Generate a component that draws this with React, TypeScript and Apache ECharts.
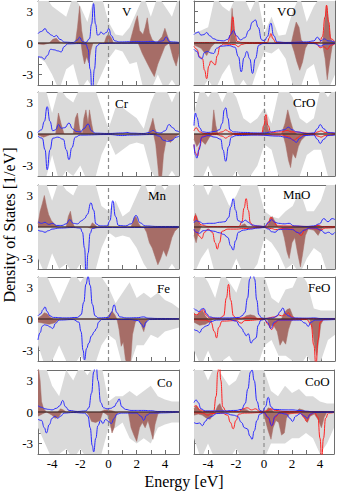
import React, { useEffect, useRef } from "react";
import * as echarts from "echarts";

type Pt = [number, number];

// ---------- axes / labels ----------
const PANEL_NAMES = ["V", "VO", "Cr", "CrO", "Mn", "MnO", "Fe", "FeO", "Co", "CoO"];
const X_TICK_LABELS = [-4, -2, 0, 2, 4];
const Y_TICK_LABELS = [-3, 0, 3];
const Y_TITLE = "Density of States [1/eV]";
const X_TITLE = "Energy [eV]";

// energy grid on which the total DOS (grey) is sampled
const ENERGY_GRID = [-5, -4.5, -4, -3.5, -3, -2.5, -2, -1.5, -1, -0.5, 0, 0.5, 1, 1.5, 2, 2.5, 3, 3.5, 4, 4.5, 5];

// ---------- V ----------
const V_GRAY_UP = [4.5, 4.5, 3.5, 3, 2.5, 4.5, 3.5, 2, 4.5, 4.5, 2, 0.8, 0.7, 1.5, 3, 4.5, 2.5, 4.5, 3.5, 2.5, 4.5];
const V_GRAY_DOWN = [-1.3, -1.8, -3, -4.5, -2.5, -2, -4.5, -3.5, -4.5, -3, -1.5, -0.6, -0.8, -2, -1.8, -4.5, -4.5, -3, -4.5, -3.5, -4.5];
const V_BROWN_UP: Pt[] = [[-5, 0], [-4.2, 0], [-3.95, 0.35], [-3.7, 0.45], [-3.45, 0.1], [-3.2, 0], [-2.35, 0], [-2.2, 1.5], [-2.05, 3.5], [-1.9, 1.2], [-1.75, 0], [-0.3, 0], [-0.15, 0.6], [0, 0.85], [0.2, 0.5], [0.35, 0], [1.5, 0], [1.7, 1.0], [1.9, 2.0], [2.05, 2.6], [2.2, 1.2], [2.45, 0.8], [2.6, 1.5], [2.75, 2.4], [2.9, 1.0], [3.1, 0.3], [3.4, 0], [3.8, 0.6], [4.0, 1.4], [4.2, 0.6], [4.4, 0], [5, 0]];
const V_BROWN_DOWN: Pt[] = [[-5, -0.1], [-4.6, -0.15], [-4.2, 0], [-1.95, 0], [-1.85, -1.0], [-1.7, -2.0], [-1.55, -1.3], [-1.4, -1.9], [-1.25, -0.7], [-1.1, 0], [2.1, 0], [2.4, -1.0], [2.7, -1.8], [3.0, -2.6], [3.25, -3.2], [3.5, -2.0], [3.8, -1.0], [4.0, -0.3], [4.3, 0], [4.6, -1.5], [4.8, -2.2], [5, -1.0]];
const V_BLUE_UP: Pt[] = [[-5, 0.9], [-4.75, 1.1], [-4.5, 1.37], [-4.3, 1.0], [-4.05, 0.75], [-3.85, 0.6], [-3.7, 0.72], [-3.45, 0.35], [-3.1, 0.08], [-2.5, 0.05], [-2.2, 0.3], [-2.05, 0.55], [-1.85, 0.15], [-1.6, 0.05], [-1.35, 0.4], [-1.2, 1.8], [-1.06, 3.75], [-0.92, 1.8], [-0.78, 0.75], [-0.65, 0.8], [-0.55, 1.05], [-0.35, 0.85], [-0.15, 1.0], [0.02, 1.37], [0.2, 0.7], [0.45, 0.2], [0.8, 0.1], [1.5, 0.12], [2.0, 0.15], [2.5, 0.12], [3.0, 0.15], [3.5, 0.1], [3.85, 0.2], [4.1, 0.57], [4.3, 0.15], [4.6, 0.1], [5, 0.05]];
const V_BLUE_DOWN: Pt[] = [[-5, -1.3], [-4.75, -1.35], [-4.55, -1.55], [-4.35, -1.2], [-4.1, -0.6], [-3.85, -0.65], [-3.6, -0.75], [-3.35, -0.85], [-3.15, -0.35], [-2.9, -0.08], [-2.0, -0.05], [-1.6, -0.1], [-1.45, -0.6], [-1.3, -2.5], [-1.15, -5], [-1.0, -2.5], [-0.85, -0.3], [-0.6, -0.05], [0.5, -0.02], [5, -0.02]];

// ---------- VO ----------
const VO_GRAY_UP = [1, 1.2, 1.5, 4.5, 3.5, 3, 4.5, 4.5, 3, 4.5, 1, 2.5, 0.7, 0.8, 3, 4.5, 2, 3.5, 4.5, 4.5, 4.5];
const VO_GRAY_DOWN = [-4.5, -4.5, -3.5, -4.5, -3, -2, -4.5, -3.5, -4.5, -2.5, -0.8, -1, -0.5, -1.5, -4, -4.5, -2.5, -2, -4.5, -4.5, -3];
const VO_BROWN_UP: Pt[] = [[-5, 0], [-2.45, 0], [-2.3, 3.3], [-2.15, 1.0], [-2.0, 0], [1.9, 0], [2.1, 1.2], [2.25, 2.0], [2.45, 1.5], [2.6, 0.3], [2.8, 0], [4.1, 0], [4.25, 1.5], [4.4, 3.6], [4.55, 2.0], [4.7, 0.3], [5, 0]];
const VO_BROWN_DOWN: Pt[] = [[-5, -0.2], [-4.5, -0.5], [-4.1, -1.2], [-3.8, -0.4], [-3.5, 0], [1.9, 0], [2.1, -0.8], [2.3, -1.8], [2.5, -2.6], [2.7, -1.8], [2.9, -0.5], [3.1, 0], [4.1, 0], [4.3, -1.5], [4.45, -3.5], [4.6, -2.0], [4.8, -0.3], [5, 0]];
const VO_BLUE_UP: Pt[] = [[-5, 0.8], [-4.85, 0.95], [-4.7, 1.05], [-4.5, 0.75], [-4.3, 0.8], [-4.1, 1.0], [-3.9, 0.7], [-3.6, 0.4], [-3.3, 0.25], [-2.9, 0.2], [-2.6, 0.35], [-2.4, 0.8], [-2.2, 1.2], [-2.0, 0.7], [-1.7, 0.3], [-1.4, 0.5], [-1.1, 1.2], [-0.85, 2.0], [-0.65, 2.2], [-0.45, 1.5], [-0.2, 0.3], [0, 0.2], [0.2, 0.6], [0.45, 1.9], [0.65, 0.7], [0.9, 0.1], [1.5, 0.05], [3.0, 0.1], [3.5, 0.2], [3.75, 0.55], [4.0, 0.2], [4.25, 0.4], [4.5, 0.2], [5, 0.1]];
const VO_BLUE_DOWN: Pt[] = [[-5, -0.6], [-4.8, -0.8], [-4.6, -1.4], [-4.45, -1.5], [-4.25, -0.9], [-4.05, -0.8], [-3.8, -0.95], [-3.6, -1.0], [-3.4, -0.5], [-3.1, -0.3], [-2.5, -0.25], [-2.1, -0.4], [-1.85, -1.3], [-1.65, -2.75], [-1.45, -1.4], [-1.25, -0.8], [-1.05, -1.5], [-0.85, -2.9], [-0.65, -1.5], [-0.4, -0.2], [-0.1, -0.05], [3.5, -0.05], [4.0, -0.3], [4.3, -0.1], [5, -0.05]];
const VO_RED_UP: Pt[] = [[-5, 0.05], [-2.6, 0.05], [-2.4, 0.8], [-2.25, 2.5], [-2.1, 0.9], [-1.95, 0.15], [-1.6, 0.05], [0.2, 0.05], [0.35, 0.5], [0.45, 0.9], [0.6, 0.4], [0.8, 0.05], [3.9, 0.05], [4.1, 0.6], [4.3, 2.5], [4.4, 3.6], [4.55, 2.0], [4.7, 0.4], [5, 0.1]];
const VO_RED_DOWN: Pt[] = [[-5, -0.3], [-4.8, -0.6], [-4.6, -1.3], [-4.4, -1.5], [-4.25, -2.6], [-4.1, -3.4], [-3.95, -2.2], [-3.8, -1.7], [-3.65, -1.9], [-3.5, -2.1], [-3.35, -1.2], [-3.15, -0.3], [-2.9, -0.1], [-2.1, -0.15], [-1.85, -0.35], [-1.65, -0.15], [-1.3, -0.05], [3.7, -0.05], [3.95, -0.45], [4.2, -0.35], [4.45, -0.6], [4.7, -0.2], [5, -0.05]];

// ---------- Cr ----------
const CR_GRAY_UP = [4.5, 4.5, 2, 4.5, 3.5, 3, 4.5, 4.5, 4.5, 2.5, 0.5, 2.5, 2.5, 2, 1.5, 0.5, 3, 4.5, 4.5, 3, 4.5];
const CR_GRAY_DOWN = [-4.5, -4.5, -2, -4.5, -3.5, -4, -3, -4.5, -4.5, -2, -0.5, -2, -1.5, -1, -0.8, -1, -3.5, -4.5, -4.5, -3.5, -4.5];
const CR_BROWN_UP: Pt[] = [[-5, 0], [-3.75, 0], [-3.55, 2.0], [-3.35, 0.9], [-3.15, 0], [-2.5, 0], [-2.35, 1.5], [-2.2, 2.0], [-2.05, 0.5], [-1.85, 0], [-1.75, 1.5], [-1.6, 2.3], [-1.45, 1.0], [-1.35, 2.3], [-1.2, 1.0], [-1.05, 0], [2.8, 0], [3.0, 0.8], [3.15, 1.5], [3.3, 0.5], [3.45, 0], [5, 0]];
const CR_BROWN_DOWN: Pt[] = [[-5, -0.1], [-4.6, -0.3], [-4.2, -0.1], [-3.8, 0], [3.2, 0], [3.35, -1.0], [3.5, -3.0], [3.6, -4.5], [3.75, -4.5], [3.9, -2.0], [4.1, -0.5], [4.4, -0.8], [4.7, -0.3], [5, 0]];
const CR_BLUE_UP: Pt[] = [[-5, 0.15], [-4.75, 0.4], [-4.55, 1.2], [-4.35, 2.6], [-4.15, 1.2], [-3.95, 0.3], [-3.75, 0.4], [-3.55, 0.9], [-3.35, 0.55], [-3.1, 0.6], [-2.8, 1.05], [-2.55, 0.5], [-2.3, 0.25], [-2.0, 0.2], [-1.75, 0.5], [-1.45, 0.95], [-1.2, 0.3], [-0.95, 0.08], [0, 0.05], [1.0, 0.1], [1.3, 0.15], [1.6, 0.08], [2.5, 0.05], [2.9, 0.15], [3.15, 0.35], [3.4, 0.15], [3.7, 0.1], [4.0, 0.3], [4.3, 0.9], [4.55, 0.6], [4.8, 0.3], [5, 0.2]];
const CR_BLUE_DOWN: Pt[] = [[-5, -0.2], [-4.7, -0.4], [-4.5, -1.5], [-4.35, -3.4], [-4.15, -1.5], [-3.95, -0.4], [-3.6, -0.3], [-3.2, -0.5], [-3.0, -1.5], [-2.8, -2.45], [-2.6, -1.3], [-2.35, -0.3], [-2.0, -0.1], [0, -0.05], [1.0, -0.15], [1.5, -0.1], [3.2, -0.05], [3.6, -0.2], [3.9, -0.6], [4.2, -0.7], [4.5, -0.6], [4.8, -0.3], [5, -0.2]];

// ---------- CrO ----------
const CRO_GRAY_UP = [2, 4.5, 3.5, 4.5, 3, 4.5, 3.5, 1.5, 1, 1.5, 2.5, 1, 4, 4.5, 3.5, 1.5, 1, 1.5, 4.5, 3.5, 4.5];
const CRO_GRAY_DOWN = [-4.5, -4.5, -3, -4.5, -4, -4.5, -3.5, -4.5, -4, -3, -1, -1.5, -4, -4.5, -4.5, -4, -2, -1.5, -1.5, -4, -4.5];
const CRO_BROWN_UP: Pt[] = [[-5, 0], [-3.75, 0], [-3.6, 2.3], [-3.45, 0.8], [-3.3, 0], [-0.15, 0], [0.0, 1.0], [0.1, 1.5], [0.25, 0.5], [0.4, 0], [1.2, 0], [1.45, 1.0], [1.65, 2.3], [1.85, 1.2], [2.05, 0.3], [2.3, 0], [5, 0]];
const CRO_BROWN_DOWN: Pt[] = [[-5, -0.5], [-4.8, -1.2], [-4.5, -0.6], [-4.2, -1.0], [-3.9, -0.3], [-3.7, 0], [1.3, 0], [1.5, -1.0], [1.7, -2.5], [1.85, -3.2], [2.0, -1.8], [2.2, -2.3], [2.4, -1.2], [2.6, -0.6], [2.9, -0.2], [3.1, 0], [5, 0]];
const CRO_BLUE_UP: Pt[] = [[-5, 0.8], [-4.9, 2.0], [-4.8, 1.6], [-4.6, 0.6], [-4.4, 0.2], [-4.0, 0.15], [-3.5, 0.25], [-3.2, 0.4], [-3.0, 1.0], [-2.85, 2.3], [-2.75, 2.5], [-2.6, 1.5], [-2.45, 0.4], [-2.2, 0.2], [-1.5, 0.15], [-0.5, 0.1], [0, 0.1], [0.5, 0.2], [1.0, 0.3], [1.4, 0.4], [1.7, 0.65], [1.95, 0.4], [2.3, 0.2], [3.0, 0.05], [3.5, 0.1], [3.75, 0.5], [3.95, 0.9], [4.2, 0.5], [4.5, 0.15], [5, 0.1]];
const CRO_BLUE_DOWN: Pt[] = [[-5, -1.0], [-4.9, -2.0], [-4.8, -2.3], [-4.65, -1.5], [-4.45, -0.3], [-4.0, -0.15], [-3.5, -0.3], [-3.1, -0.5], [-2.95, -1.5], [-2.75, -2.6], [-2.55, -1.2], [-2.35, -0.3], [-2.0, -0.15], [-0.5, -0.1], [1.0, -0.2], [1.5, -0.3], [1.8, -0.4], [2.05, -0.6], [2.25, -0.8], [2.5, -0.4], [2.8, -0.15], [3.5, -0.1], [3.75, -0.5], [3.95, -0.9], [4.2, -0.5], [4.5, -0.15], [5, -0.1]];
const CRO_RED_UP: Pt[] = [[-5, 0.3], [-4.85, 0.6], [-4.6, 0.2], [-4.3, 0.05], [-3.4, 0.05], [-3.0, 0.2], [-2.75, 0.4], [-2.5, 0.2], [-2.2, 0.05], [-0.2, 0.05], [-0.05, 0.8], [0.1, 1.85], [0.25, 0.8], [0.45, 0.15], [1.2, 0.2], [1.6, 0.35], [1.9, 0.2], [3.5, 0.05], [3.8, 0.2], [4.0, 0.3], [4.3, 0.15], [5, 0.05]];
const CRO_RED_DOWN: Pt[] = [[-5, -1.0], [-4.9, -1.8], [-4.75, -2.1], [-4.6, -1.2], [-4.4, -0.2], [-3.4, -0.05], [-3.0, -0.2], [-2.75, -0.4], [-2.5, -0.2], [-2.2, -0.05], [1.2, -0.1], [1.7, -0.25], [2.1, -0.6], [2.3, -0.4], [2.6, -0.1], [3.5, -0.05], [3.8, -0.2], [4.0, -0.3], [4.3, -0.15], [5, -0.05]];

// ---------- Mn ----------
const MN_GRAY_UP = [4.5, 4.5, 2.5, 4.5, 3.5, 3, 4.5, 4.5, 4.5, 2, 1.5, 2.5, 1, 1.5, 3, 4.5, 2.5, 4.5, 3.5, 4.5, 4.5];
const MN_GRAY_DOWN = [-3, -4.5, -2.5, -4, -3.5, -4.5, -3.5, -4.5, -4.5, -2, -0.5, -1, -0.8, -1, -2, -3.5, -4.5, -4, -4.5, -3.5, -4.5];
const MN_BROWN_UP: Pt[] = [[-5, 0.3], [-4.85, 1.5], [-4.7, 2.2], [-4.55, 3.0], [-4.4, 2.0], [-4.25, 1.2], [-4.05, 0.6], [-3.85, 0.3], [-3.6, 0], [-3.0, 0], [-2.85, 1.0], [-2.7, 1.5], [-2.55, 0.4], [-2.4, 0], [-1.3, 0], [-1.15, 0.4], [-0.95, 0.2], [-0.8, 0], [1.6, 0], [1.8, 0.8], [1.95, 1.0], [2.15, 0.3], [2.3, 0], [5, 0]];
const MN_BROWN_DOWN: Pt[] = [[-5, 0], [-1.5, 0], [-1.2, -0.15], [-0.6, -0.05], [-0.3, 0], [2.5, 0], [2.7, -0.5], [2.9, -1.5], [3.1, -2.0], [3.3, -2.8], [3.5, -3.6], [3.7, -3.0], [3.9, -2.2], [4.1, -2.8], [4.3, -2.0], [4.5, -1.0], [4.7, -0.4], [5, 0]];
const MN_BLUE_UP: Pt[] = [[-5, 0.5], [-4.75, 0.35], [-4.5, 0.45], [-4.25, 0.25], [-3.95, 0.35], [-3.7, 0.15], [-3.3, 0.15], [-3.0, 0.3], [-2.75, 0.7], [-2.5, 0.35], [-2.2, 0.3], [-1.9, 0.6], [-1.7, 0.8], [-1.5, 1.2], [-1.25, 2.3], [-1.05, 1.6], [-0.9, 0.3], [-0.6, 0.1], [-0.1, 0.1], [0.1, 0.6], [0.3, 2.5], [0.5, 1.0], [0.7, 0.15], [1.2, 0.1], [1.6, 0.3], [1.95, 1.1], [2.25, 0.4], [2.6, 0.1], [3.5, 0.05], [5, 0.05]];
const MN_BLUE_DOWN: Pt[] = [[-5, -0.3], [-4.75, -0.4], [-4.5, -0.5], [-4.25, -0.35], [-4.0, -0.2], [-3.5, -0.1], [-2.5, -0.05], [-2.0, -0.1], [-1.85, -0.5], [-1.7, -2.0], [-1.58, -5], [-1.45, -2.5], [-1.3, -0.6], [-1.15, -0.15], [-0.8, -0.05], [5, -0.05]];

// ---------- MnO ----------
const MNO_GRAY_UP = [4.5, 4.5, 3, 4.5, 3.5, 2, 3, 4.5, 4.5, 4, 1.5, 1, 0.8, 1.5, 2, 3.5, 1.5, 1.5, 2.5, 4.5, 4.5];
const MNO_GRAY_DOWN = [-4.5, -3, -2, -4.5, -4, -4.5, -3, -4.5, -4.5, -3.5, -1, -1.5, -2.5, -4, -3.5, -4.5, -3, -2, -2.5, -4.5, -4.5];
const MNO_BROWN_UP: Pt[] = [[-5, 0.5], [-4.9, 1.3], [-4.75, 0.8], [-4.6, 0.2], [-4.4, 0], [-1.8, 0], [-1.6, 0.2], [-1.4, 0.3], [-1.2, 0], [0.2, 0], [0.4, 0.8], [0.55, 1.0], [0.75, 0.5], [0.95, 0], [3.4, 0], [3.7, 0.2], [3.9, 0.1], [4.1, 0], [5, 0]];
const MNO_BROWN_DOWN: Pt[] = [[-5, -0.8], [-4.85, -1.5], [-4.7, -0.6], [-4.5, 0], [1.2, 0], [1.4, -1.0], [1.6, -2.4], [1.75, -3.0], [1.95, -1.5], [2.15, -1.0], [2.35, -2.5], [2.55, -3.8], [2.7, -2.6], [2.9, -0.8], [3.1, -0.2], [3.5, -0.3], [3.8, -0.8], [4.0, -0.3], [4.2, 0], [5, 0]];
const MNO_BLUE_UP: Pt[] = [[-5, 0.4], [-4.85, 0.6], [-4.6, 0.5], [-4.35, 0.3], [-4.0, 0.35], [-3.6, 0.35], [-3.2, 0.45], [-2.8, 0.5], [-2.55, 0.9], [-2.38, 1.9], [-2.22, 2.7], [-2.05, 1.6], [-1.88, 0.6], [-1.6, 0.45], [-1.35, 0.65], [-1.15, 0.45], [-0.9, 0.2], [-0.5, 0.1], [0, 0.05], [0.3, 0.45], [0.5, 0.7], [0.75, 0.45], [1.0, 0.35], [1.4, 0.3], [1.75, 0.35], [2.1, 0.1], [3.0, 0.05], [3.5, 0.1], [3.9, 0.3], [4.2, 0.8], [4.5, 0.5], [4.8, 0.8], [5, 0.7]];
const MNO_BLUE_DOWN: Pt[] = [[-5, -0.2], [-4.85, -0.5], [-4.6, -0.6], [-4.35, -0.35], [-4.0, -0.3], [-3.6, -0.4], [-3.2, -0.55], [-2.9, -0.7], [-2.6, -1.0], [-2.4, -1.8], [-2.22, -2.2], [-2.05, -1.3], [-1.85, -0.5], [-1.5, -0.3], [-1.0, -0.2], [-0.5, -0.1], [0, -0.05], [0.3, -0.2], [0.5, -0.45], [0.75, -0.5], [1.0, -0.25], [1.5, -0.2], [2.0, -0.25], [2.3, -0.5], [2.5, -0.6], [2.8, -0.3], [3.2, -0.1], [3.6, -0.1], [4.0, -0.3], [4.3, -0.6], [4.55, -0.5], [4.8, -0.7], [5, -0.5]];
const MNO_RED_UP: Pt[] = [[-5, 0.6], [-4.9, 1.1], [-4.75, 0.6], [-4.5, 0.2], [-4.0, 0.05], [-1.8, 0.05], [-1.6, 0.5], [-1.45, 1.8], [-1.3, 2.7], [-1.15, 1.6], [-1.0, 0.4], [-0.8, 0.1], [0.1, 0.05], [0.3, 0.5], [0.45, 0.95], [0.65, 0.5], [0.9, 0.1], [3.5, 0.05], [3.8, 0.15], [4.1, 0.05], [5, 0.05]];
const MNO_RED_DOWN: Pt[] = [[-5, -0.3], [-4.8, -0.5], [-4.6, -0.9], [-4.45, -1.1], [-4.25, -0.5], [-4.0, -0.2], [-3.7, -0.5], [-3.5, -1.5], [-3.35, -2.1], [-3.2, -1.5], [-3.0, -0.4], [-2.6, -0.2], [-2.0, -0.2], [-1.5, -0.15], [0, -0.05], [0.5, -0.15], [0.8, -0.25], [1.2, -0.15], [2.0, -0.2], [2.3, -0.5], [2.6, -0.8], [2.85, -0.3], [3.2, -0.1], [3.8, -0.2], [4.0, -0.3], [4.3, -0.1], [5, -0.05]];

// ---------- Fe ----------
const FE_GRAY_UP = [4.5, 4.5, 3, 1.5, 3, 4.5, 3.5, 4.5, 4.5, 4, 3, 1.5, 2.5, 3.5, 2, 2.5, 2, 2.5, 1.8, 1.5, 1];
const FE_GRAY_DOWN = [-2.5, -4.5, -4, -2.5, -4, -4.5, -3.5, -4.5, -4.5, -2.5, -1.5, -2, -4.5, -4.5, -2.5, -2.5, -1.5, -1.8, -1.2, -1, -0.8];
const FE_BROWN_UP: Pt[] = [[-5, 0.1], [-4.75, 0.3], [-4.55, 0.6], [-4.35, 0.5], [-4.15, 0.2], [-3.9, 0], [-0.2, 0], [0.05, 0.4], [0.25, 0.75], [0.45, 0.4], [0.6, 0], [5, 0]];
const FE_BROWN_DOWN: Pt[] = [[-5, -0.3], [-4.6, -0.4], [-4.2, -0.5], [-3.8, -0.35], [-3.5, 0], [0.6, 0], [0.75, -1.0], [0.9, -2.6], [1.05, -2.2], [1.2, -3.8], [1.35, -4.5], [1.55, -4.5], [1.7, -1.5], [1.9, -0.3], [2.1, 0], [2.3, -0.5], [2.5, -1.2], [2.65, -0.4], [2.8, 0], [5, 0]];
const FE_BLUE_UP: Pt[] = [[-5, 0.3], [-4.8, 0.5], [-4.65, 0.9], [-4.5, 1.15], [-4.35, 0.7], [-4.15, 0.3], [-3.9, 0.15], [-3, 0.1], [-2.2, 0.15], [-1.95, 0.4], [-1.75, 1.6], [-1.6, 3.3], [-1.45, 4.05], [-1.3, 3.2], [-1.15, 1.4], [-0.95, 0.3], [-0.7, 0.1], [0, 0.15], [0.2, 0.6], [0.4, 1.35], [0.6, 0.6], [0.8, 0.2], [1.3, 0.1], [2.0, 0.12], [2.5, 0.2], [2.8, 0.08], [3.5, 0.05], [5, 0.03]];
const FE_BLUE_DOWN: Pt[] = [[-5, -2.0], [-4.85, -1.3], [-4.7, -0.7], [-4.55, -0.55], [-4.35, -0.6], [-4.15, -0.75], [-3.95, -0.9], [-3.75, -0.4], [-3.5, -0.1], [-2.5, -0.05], [-2.1, -0.3], [-1.95, -1.2], [-1.8, -3.0], [-1.7, -3.9], [-1.55, -2.8], [-1.4, -2.3], [-1.2, -1.6], [-1.0, -1.2], [-0.85, -0.9], [-0.7, -0.3], [-0.5, -0.05], [1.5, -0.05], [2.1, -0.15], [2.35, -0.5], [2.5, -0.8], [2.65, -0.3], [2.9, -0.05], [5, -0.02]];

// ---------- FeO ----------
const FEO_GRAY_UP = [4.5, 4.5, 3.5, 2, 4.5, 3.5, 2.5, 4.5, 4.5, 4.5, 4, 2, 1.5, 2.8, 3, 4.5, 3.5, 1, 0.8, 0.8, 0.8];
const FEO_GRAY_DOWN = [-3, -4.5, -3, -4.5, -4, -3.5, -4.5, -4.5, -4, -4.5, -2.5, -2, -3.5, -3.5, -4, -4.5, -3.5, -4.5, -4, -2, -1.5];
const FEO_BROWN_UP: Pt[] = [[-5, 0.6], [-4.85, 0.3], [-4.6, 0.6], [-4.4, 0.8], [-4.2, 0.3], [-4.0, 0], [-1.6, 0], [-1.3, 0.3], [-1.0, 0.4], [-0.7, 0.3], [-0.5, 0], [1.2, 0], [1.4, 0.6], [1.6, 0.9], [1.8, 1.0], [2.0, 0.3], [2.2, 0], [5, 0]];
const FEO_BROWN_DOWN: Pt[] = [[-5, -0.3], [-4.6, -0.6], [-4.2, -0.5], [-3.8, -0.2], [-3.6, 0], [0.2, 0], [0.4, -0.8], [0.6, -0.5], [0.9, -1.2], [1.1, -2.5], [1.3, -2.0], [1.5, -2.4], [1.7, -1.0], [1.9, -0.2], [2.1, 0], [3.2, 0], [3.4, -1.0], [3.55, -2.5], [3.7, -3.5], [3.85, -2.0], [4.0, -0.5], [4.2, 0], [5, 0]];
const FEO_BLUE_UP: Pt[] = [[-5, 1.0], [-4.85, 0.85], [-4.65, 0.7], [-4.45, 0.95], [-4.3, 1.0], [-4.1, 0.5], [-3.9, 0.2], [-3.5, 0.1], [-2.5, 0.1], [-1.8, 0.15], [-1.6, 0.3], [-1.4, 0.6], [-1.2, 2.0], [-1.05, 3.8], [-0.87, 5.0], [-0.7, 3.8], [-0.55, 1.8], [-0.4, 0.4], [-0.2, 0.1], [0, 0.05], [0.6, 0.1], [0.9, 0.3], [1.1, 0.7], [1.3, 1.05], [1.5, 0.5], [1.7, 0.3], [2.0, 0.1], [3.0, 0.08], [3.5, 0.1], [4, 0.05], [5, 0.05]];
const FEO_BLUE_DOWN: Pt[] = [[-5, -1.0], [-4.8, -1.1], [-4.6, -1.3], [-4.4, -0.9], [-4.2, -0.7], [-4.0, -0.6], [-3.8, -0.25], [-3.4, -0.1], [-2.5, -0.05], [-2.0, -0.2], [-1.75, -0.7], [-1.6, -0.9], [-1.45, -1.3], [-1.3, -1.6], [-1.15, -1.4], [-0.95, -2.3], [-0.8, -2.0], [-0.6, -1.8], [-0.45, -0.6], [-0.25, -0.1], [0, -0.05], [0.2, -0.3], [0.45, -0.9], [0.7, -0.3], [1.0, -0.1], [2.5, -0.1], [2.9, -0.4], [3.1, -0.7], [3.3, -0.3], [3.6, -0.1], [5, -0.05]];
const FEO_RED_UP: Pt[] = [[-5, 0.5], [-4.8, 0.4], [-4.55, 0.7], [-4.35, 0.9], [-4.15, 0.4], [-3.9, 0.1], [-3.2, 0.05], [-2.9, 0.3], [-2.7, 2.0], [-2.55, 3.3], [-2.4, 1.8], [-2.2, 0.3], [-2.0, 0.05], [-1.5, 0.1], [0, 0.05], [0.8, 0.2], [1.0, 0.4], [1.2, 0.3], [1.5, 0.4], [1.7, 0.6], [1.9, 0.2], [2.2, 0.05], [5, 0.03]];
const FEO_RED_DOWN: Pt[] = [[-5, -0.05], [-4.2, -0.1], [-3.8, -0.3], [-3.55, -1.2], [-3.4, -1.8], [-3.25, -0.8], [-3.0, -0.2], [-2.0, -0.15], [-1.65, -0.4], [-1.4, -0.15], [0, -0.05], [0.25, -0.5], [0.5, -1.0], [0.75, -0.4], [1.0, -0.1], [3.0, -0.05], [3.3, -0.5], [3.5, -2.5], [3.65, -4.5], [3.8, -2.0], [3.95, -0.3], [4.2, -0.05], [5, -0.02]];

// ---------- Co ----------
const CO_GRAY_UP = [4.5, 4.5, 2.5, 1.5, 4, 3, 4.5, 3.5, 4.5, 4.5, 1, 1.5, 1.5, 2, 1.5, 2, 2.5, 1.5, 1.2, 1, 1];
const CO_GRAY_DOWN = [-1.5, -3, -4.5, -4, -3.5, -4.5, -3.5, -4.5, -4.5, -4, -1.5, -1.5, -1, -2.5, -3, -2.5, -3, -1.5, -1.2, -1, -1];
const CO_BROWN_UP: Pt[] = [[-5, 4.5], [-4.85, 3.0], [-4.75, 1.0], [-4.6, 0.3], [-4.4, 0], [-3.6, 0], [-3.4, 0.3], [-3.2, 0.2], [-3.0, 0], [-0.6, 0], [-0.3, 0.2], [0.0, 0.2], [0.3, 0.1], [0.5, 0], [5, 0]];
const CO_BROWN_DOWN: Pt[] = [[-5, -0.4], [-4.7, -0.2], [-4.4, 0], [-4.0, -0.3], [-3.8, -0.6], [-3.55, -0.5], [-3.3, 0], [-1.6, 0], [-1.4, -0.3], [-1.2, -0.9], [-0.9, -1.0], [-0.6, -0.8], [-0.4, 0], [-0.05, -0.3], [0.1, -1.0], [0.25, -2.0], [0.4, -1.5], [0.55, -0.3], [0.7, 0], [1.4, 0], [1.6, -1.5], [1.8, -2.2], [2.0, -2.8], [2.2, -1.5], [2.4, -1.0], [2.6, -1.5], [2.8, -0.8], [3.0, -1.8], [3.15, -2.6], [3.3, -1.2], [3.5, -0.2], [3.7, 0], [5, 0]];
const CO_BLUE_UP: Pt[] = [[-5, 0.6], [-4.75, 0.45], [-4.5, 0.3], [-4.25, 0.25], [-4.0, 0.2], [-3.7, 0.35], [-3.45, 0.6], [-3.25, 1.1], [-3.05, 0.5], [-2.8, 0.15], [-2.2, 0.05], [-1.6, 0.1], [-1.4, 0.4], [-1.2, 1.8], [-1.05, 3.8], [-0.9, 5.0], [-0.75, 3.0], [-0.55, 0.9], [-0.35, 0.4], [-0.1, 0.3], [0.15, 0.35], [0.4, 0.5], [0.6, 0.9], [0.75, 1.25], [0.95, 0.5], [1.2, 0.25], [1.6, 0.15], [2.5, 0.15], [3.0, 0.12], [3.5, 0.05], [5, 0.03]];
const CO_BLUE_DOWN: Pt[] = [[-5, -0.7], [-4.75, -0.8], [-4.55, -1.5], [-4.4, -2.0], [-4.2, -1.2], [-4.0, -0.6], [-3.8, -0.4], [-3.6, -0.6], [-3.4, -0.4], [-3.15, -0.1], [-2.5, -0.05], [-1.7, -0.1], [-1.45, -0.4], [-1.3, -1.5], [-1.15, -3.2], [-1.05, -3.8], [-0.9, -2.5], [-0.75, -1.3], [-0.55, -0.8], [-0.4, -1.1], [-0.2, -0.7], [0, -0.9], [0.2, -1.1], [0.4, -0.6], [0.6, -0.2], [0.9, -0.1], [2.0, -0.1], [2.3, -0.4], [2.5, -0.8], [2.7, -0.3], [3.0, -0.1], [5, -0.02]];

// ---------- CoO ----------
const COO_GRAY_UP = [4.5, 4.5, 3, 4.5, 3.5, 2.5, 3, 4.5, 4.5, 4, 4, 2, 1.5, 2.5, 1.8, 2.2, 1.5, 1.5, 1, 0.8, 0.8];
const COO_GRAY_DOWN = [-2.5, -4.5, -3, -4.5, -4, -4.5, -3.5, -4.5, -4.5, -4, -4.5, -3, -3, -3, -2.5, -2.5, -2, -2.5, -4, -3, -1.5];
const COO_BROWN_UP: Pt[] = [[-5, 0.3], [-4.85, 0.6], [-4.6, 0.2], [-4.4, 0], [-3.5, 0], [-3.3, 0.6], [-3.15, 0.8], [-3.0, 0.3], [-2.8, 0], [-1.8, 0], [-1.5, 0.3], [-1.2, 0.2], [-1.0, 0], [0.1, 0], [0.3, 0.4], [0.5, 0.3], [0.7, 0], [2.3, 0], [2.5, 0.3], [2.8, 0.2], [3.0, 0], [5, 0]];
const COO_BROWN_DOWN: Pt[] = [[-5, -0.3], [-4.7, -0.2], [-4.4, -0.3], [-4.1, -0.6], [-3.85, -0.7], [-3.6, -0.2], [-3.4, 0], [-0.1, 0], [0.1, -0.8], [0.3, -1.8], [0.5, -2.6], [0.65, -1.5], [0.85, -0.8], [1.05, -1.0], [1.25, -2.2], [1.45, -2.0], [1.6, -0.6], [1.8, -0.2], [2.6, 0], [2.9, -0.6], [3.1, -1.0], [3.3, -0.4], [3.6, -0.2], [3.9, -0.8], [4.1, -1.5], [4.3, -0.5], [4.5, 0], [5, 0]];
const COO_BLUE_UP: Pt[] = [[-5, 0.9], [-4.85, 1.15], [-4.7, 0.9], [-4.5, 0.3], [-4.2, 0.1], [-3, 0.1], [-2, 0.15], [-1.6, 0.25], [-1.35, 0.8], [-1.15, 2.2], [-0.97, 3.8], [-0.85, 4.0], [-0.7, 3.0], [-0.5, 1.0], [-0.3, 0.15], [-0.1, 0.05], [0.1, 0.5], [0.3, 1.4], [0.5, 0.5], [0.7, 0.25], [1.5, 0.2], [2.0, 0.2], [2.5, 0.15], [3.0, 0.08], [3.5, 0.02], [5, 0.02]];
const COO_BLUE_DOWN: Pt[] = [[-5, -1.0], [-4.8, -1.1], [-4.6, -1.05], [-4.4, -1.3], [-4.2, -0.9], [-4.0, -0.6], [-3.7, -0.4], [-3.4, -0.15], [-2.8, -0.1], [-2.2, -0.3], [-1.9, -0.4], [-1.6, -1.0], [-1.4, -1.5], [-1.2, -1.6], [-1.0, -2.3], [-0.85, -2.6], [-0.7, -1.8], [-0.5, -0.8], [-0.3, -0.2], [0, -0.05], [0.3, -0.5], [0.55, -1.3], [0.8, -0.4], [1.1, -0.1], [1.6, -0.2], [1.85, -0.6], [2.05, -0.9], [2.25, -0.4], [2.6, -0.15], [2.9, -0.4], [3.1, -0.6], [3.3, -0.2], [3.6, -0.05], [5, -0.02]];
const COO_RED_UP: Pt[] = [[-5, 0.5], [-4.85, 0.6], [-4.6, 0.2], [-4.2, 0.05], [-3.6, 0.05], [-3.42, 1.5], [-3.3, 3.8], [-3.2, 5.0], [-3.08, 3.0], [-2.95, 0.5], [-2.7, 0.05], [-1.8, 0.05], [-1.5, 0.3], [-1.2, 0.4], [-0.9, 0.2], [-0.6, 0.3], [-0.3, 0.05], [0.2, 0.1], [0.5, 0.3], [0.8, 0.15], [1.5, 0.05], [5, 0.02]];
const COO_RED_DOWN: Pt[] = [[-5, -0.05], [-4.4, -0.1], [-4.0, -0.3], [-3.8, -0.15], [-3.0, -0.1], [-2.6, -0.3], [-2.4, -1.0], [-2.2, -1.6], [-2.0, -0.8], [-1.8, -0.2], [-1.4, -0.1], [0, -0.05], [0.3, -0.6], [0.55, -1.3], [0.8, -0.5], [1.1, -0.1], [2.6, -0.1], [2.85, -0.5], [3.05, -0.9], [3.25, -0.3], [3.6, -0.05], [3.85, -0.5], [4.0, -2.5], [4.12, -4.5], [4.25, -2.5], [4.4, -0.6], [4.6, -0.1], [5, -0.05]];

interface Panel {
  grayUp: number[];
  grayDown: number[];
  brownUp: Pt[];
  brownDown: Pt[];
  blueUp: Pt[];
  blueDown: Pt[];
  redUp?: Pt[];
  redDown?: Pt[];
}

const PANELS: Panel[] = [
  { grayUp: V_GRAY_UP, grayDown: V_GRAY_DOWN, brownUp: V_BROWN_UP, brownDown: V_BROWN_DOWN, blueUp: V_BLUE_UP, blueDown: V_BLUE_DOWN },
  { grayUp: VO_GRAY_UP, grayDown: VO_GRAY_DOWN, brownUp: VO_BROWN_UP, brownDown: VO_BROWN_DOWN, blueUp: VO_BLUE_UP, blueDown: VO_BLUE_DOWN, redUp: VO_RED_UP, redDown: VO_RED_DOWN },
  { grayUp: CR_GRAY_UP, grayDown: CR_GRAY_DOWN, brownUp: CR_BROWN_UP, brownDown: CR_BROWN_DOWN, blueUp: CR_BLUE_UP, blueDown: CR_BLUE_DOWN },
  { grayUp: CRO_GRAY_UP, grayDown: CRO_GRAY_DOWN, brownUp: CRO_BROWN_UP, brownDown: CRO_BROWN_DOWN, blueUp: CRO_BLUE_UP, blueDown: CRO_BLUE_DOWN, redUp: CRO_RED_UP, redDown: CRO_RED_DOWN },
  { grayUp: MN_GRAY_UP, grayDown: MN_GRAY_DOWN, brownUp: MN_BROWN_UP, brownDown: MN_BROWN_DOWN, blueUp: MN_BLUE_UP, blueDown: MN_BLUE_DOWN },
  { grayUp: MNO_GRAY_UP, grayDown: MNO_GRAY_DOWN, brownUp: MNO_BROWN_UP, brownDown: MNO_BROWN_DOWN, blueUp: MNO_BLUE_UP, blueDown: MNO_BLUE_DOWN, redUp: MNO_RED_UP, redDown: MNO_RED_DOWN },
  { grayUp: FE_GRAY_UP, grayDown: FE_GRAY_DOWN, brownUp: FE_BROWN_UP, brownDown: FE_BROWN_DOWN, blueUp: FE_BLUE_UP, blueDown: FE_BLUE_DOWN },
  { grayUp: FEO_GRAY_UP, grayDown: FEO_GRAY_DOWN, brownUp: FEO_BROWN_UP, brownDown: FEO_BROWN_DOWN, blueUp: FEO_BLUE_UP, blueDown: FEO_BLUE_DOWN, redUp: FEO_RED_UP, redDown: FEO_RED_DOWN },
  { grayUp: CO_GRAY_UP, grayDown: CO_GRAY_DOWN, brownUp: CO_BROWN_UP, brownDown: CO_BROWN_DOWN, blueUp: CO_BLUE_UP, blueDown: CO_BLUE_DOWN },
  { grayUp: COO_GRAY_UP, grayDown: COO_GRAY_DOWN, brownUp: COO_BROWN_UP, brownDown: COO_BROWN_DOWN, blueUp: COO_BLUE_UP, blueDown: COO_BLUE_DOWN, redUp: COO_RED_UP, redDown: COO_RED_DOWN },
];

// ---------- layout & style ----------
const COL_LEFT = [38, 194];
const ROW_TOP = [1, 92, 185, 277, 370];
const PANEL_W = 141;
const PANEL_H = 84;
const LABEL_POS: [number, number][] = [
  [122, 11], [277, 11], [115, 103], [293, 102], [148, 195],
  [283, 194], [157, 288], [308, 287], [157, 382], [305, 381],
];
const FONT = "Liberation Serif";
const FRAME = "#6e6e6e";
const GRAY = "#dadada";
const BROWN = "#a66d67";
const BLUE = "#2a2aff";
const RED = "#ff2222";

function buildOption() {
  const grid: any[] = [];
  const xAxis: any[] = [];
  const yAxis: any[] = [];
  const series: any[] = [];

  PANELS.forEach((p, i) => {
    const col = i % 2;
    const row = Math.floor(i / 2);
    grid.push({ left: COL_LEFT[col], top: ROW_TOP[row], width: PANEL_W, height: PANEL_H, containLabel: false });
    xAxis.push({
      gridIndex: i, type: "value", min: -5, max: 5, interval: 1, position: "bottom",
      axisLine: { show: true, onZero: false, lineStyle: { color: FRAME, width: 1 } },
      axisTick: { show: true, inside: true, length: 4, lineStyle: { color: FRAME, width: 1 } },
      axisLabel: {
        show: row === 4, margin: 3, color: "#000", fontFamily: FONT, fontSize: 13,
        formatter: (v: number) => (X_TICK_LABELS.indexOf(v) >= 0 ? String(v) : ""),
      },
      splitLine: { show: false },
    });
    yAxis.push({
      gridIndex: i, type: "value", min: -4, max: 4, interval: 1, position: "left",
      axisLine: { show: true, onZero: false, lineStyle: { color: FRAME, width: 1 } },
      axisTick: { show: true, inside: true, length: 4, lineStyle: { color: FRAME, width: 1 } },
      axisLabel: {
        show: col === 0, margin: 5, color: "#000", fontFamily: FONT, fontSize: 13,
        formatter: (v: number) => (Y_TICK_LABELS.indexOf(v) >= 0 ? String(v) : ""),
      },
      splitLine: { show: false },
    });
  });
  // frame: top and right edges
  PANELS.forEach((_, i) => {
    xAxis.push({
      gridIndex: i, type: "value", min: -5, max: 5, position: "top",
      axisLine: { show: true, onZero: false, lineStyle: { color: FRAME, width: 1 } },
      axisTick: { show: false }, axisLabel: { show: false }, splitLine: { show: false },
    });
    yAxis.push({
      gridIndex: i, type: "value", min: -4, max: 4, position: "right",
      axisLine: { show: true, onZero: false, lineStyle: { color: FRAME, width: 1 } },
      axisTick: { show: false }, axisLabel: { show: false }, splitLine: { show: false },
    });
  });

  PANELS.forEach((p, i) => {
    const base = { type: "line", xAxisIndex: i, yAxisIndex: i, symbol: "none", silent: true, animation: false, clip: true };
    const gridPts = (vals: number[]) => ENERGY_GRID.map((e, k) => [e, vals[k]]);
    series.push({ ...base, data: gridPts(p.grayUp), lineStyle: { width: 0 }, areaStyle: { color: GRAY, opacity: 1 }, z: 1 });
    series.push({ ...base, data: gridPts(p.grayDown), lineStyle: { width: 0 }, areaStyle: { color: GRAY, opacity: 1 }, z: 1 });
    series.push({ ...base, data: p.brownUp, lineStyle: { width: 0.5, color: BROWN }, areaStyle: { color: BROWN, opacity: 1 }, z: 2 });
    series.push({ ...base, data: p.brownDown, lineStyle: { width: 0.5, color: BROWN }, areaStyle: { color: BROWN, opacity: 1 }, z: 2 });
    series.push({ ...base, data: [[0, -4], [0, 4]], lineStyle: { width: 1.2, color: "#8c8c8c", type: [4, 3] }, z: 3 });
    const lines: [Pt[] | undefined, string][] = [
      [p.redUp, RED], [p.redDown, RED], [p.blueUp, BLUE], [p.blueDown, BLUE],
    ];
    lines.forEach(([d, c]) => {
      if (!d) return;
      series.push({ ...base, data: d, smooth: 0.5, smoothMonotone: "x", lineStyle: { width: 1, color: c }, z: 4 });
    });
    series.push({ ...base, data: [[-5, 0], [5, 0]], lineStyle: { width: 1.1, color: "#2a1a18" }, z: 5 });
  });

  const graphic: any[] = PANEL_NAMES.map((name, i) => ({
    type: "text", x: LABEL_POS[i][0], y: LABEL_POS[i][1], z: 10,
    style: { text: name, fontFamily: FONT, fontSize: 13, fontWeight: "normal", fill: "#000", textAlign: "left", textVerticalAlign: "middle" },
  }));
  graphic.push({
    type: "text", x: 9, y: 225, rotation: Math.PI / 2, z: 10,
    style: { text: Y_TITLE, fontFamily: FONT, fontSize: 16, fill: "#000", textAlign: "center", textVerticalAlign: "middle" },
  });
  graphic.push({
    type: "text", x: 184, y: 481, z: 10,
    style: { text: X_TITLE, fontFamily: FONT, fontSize: 16, fill: "#000", textAlign: "center", textVerticalAlign: "middle" },
  });

  return {
    animation: false,
    backgroundColor: "#ffffff",
    textStyle: { fontFamily: FONT },
    grid, xAxis, yAxis, series, graphic,
  };
}

export default function App() {
  const ref = useRef<HTMLDivElement>(null);
  useEffect(() => {
    if (!ref.current) return;
    const chart = echarts.init(ref.current, undefined, { renderer: "svg" });
    chart.setOption(buildOption() as any);
    return () => chart.dispose();
  }, []);
  return <div ref={ref} style={{ position: "absolute", left: 0, top: 0, width: 337, height: 491 }} />;
}
